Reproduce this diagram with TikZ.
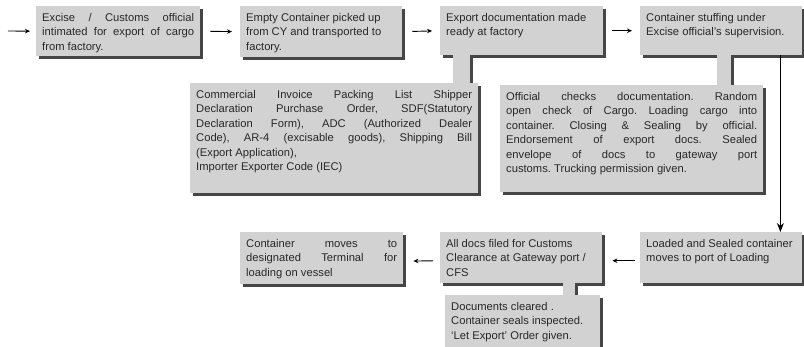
\documentclass[tikz,border=0pt]{standalone}
\usepackage{fontspec}
\setmainfont{Liberation Sans}
\usetikzlibrary{arrows.meta,shadows}

\definecolor{boxgray}{RGB}{210,210,210}
\definecolor{shadowgray}{RGB}{70,70,70}
\definecolor{inkgray}{RGB}{40,40,40}

% text block of a stage box: height, width, text
\newcommand\boxtext[3]{\parbox[t][#1][t]{#2}{\frenchspacing\hyphenpenalty=10000\strut #3}}

\tikzset{
  stage/.style={fill=boxgray, anchor=north west, inner xsep=6pt, inner ysep=5pt,
    text=inkgray, font=\fontsize{11.2}{14.5}\selectfont,
    drop shadow={shadow xshift=3pt, shadow yshift=-3pt, fill=shadowgray, opacity=1}},
  flow/.style={draw=black, line width=0.9pt, -{Stealth[length=5pt,width=4.5pt]}},
  drop/.style={flow, -{Stealth[length=9pt,width=7pt]}},
  stem/.style={draw=boxgray, line width=#1},
  stemedge/.style={draw=shadowgray, line width=3pt},
}

\begin{document}
\begin{tikzpicture}[x=1pt,y=-1pt]
  \useasboundingbox (0,0) rectangle (804,347);

  % first row
  \node[stage] (b1) at (36,6) {\boxtext{40pt}{152pt}{Excise / Customs official\linebreak
    intimated for export of cargo\linebreak from factory.}};
  \node[stage] (b2) at (240,6) {\boxtext{41pt}{150pt}{\raggedright Empty Container picked up\\
    from CY and transported to\\ factory.}};
  \node[stage] (b3) at (440,6) {\boxtext{39pt}{151pt}{\raggedright Export documentation made\\
    ready at factory}};
  \node[stage] (b4) at (640,6) {\boxtext{39pt}{150pt}{\raggedright Container stuffing under\\
    Excise official's supervision.}};

  % documents
  \node[stage] (ci) at (190,83) {\boxtext{100pt}{276pt}{Commercial Invoice Packing List Shipper\linebreak
    Declaration Purchase Order, SDF(Statutory\linebreak
    Declaration Form), ADC (Authorized Dealer\linebreak
    Code), AR-4 (excisable goods), Shipping Bill\linebreak
    (Export Application),\\ Importer Exporter Code (IEC)}};
  \node[stage] (oc) at (500,85) {\boxtext{97pt}{251pt}{Official checks documentation. Random\linebreak
    open check of Cargo. Loading cargo into\linebreak
    container. Closing \& Sealing by official.\linebreak
    Endorsement of export docs. Sealed\linebreak
    envelope of docs to gateway port\linebreak
    customs. Trucking permission given.}};

  % second row
  \node[stage] (b8) at (640,232) {\boxtext{41pt}{150pt}{\raggedright Loaded and Sealed container\\
    moves to port of Loading}};
  \node[stage] (b7) at (440,232) {\boxtext{41pt}{150pt}{\raggedright All docs filed for Customs\\
    Clearance at Gateway port /\\ CFS}};
  \node[stage] (b6) at (240,232) {\boxtext{42pt}{151pt}{Container moves to\linebreak
    designated Terminal for\linebreak loading on vessel}};
  \node[stage] (dc) at (445,295) {\boxtext{60pt}{143pt}{\raggedright Documents cleared .\\
    Container seals inspected.\\ `Let Export' Order given.}};

  % stems
  \draw[stem=17pt] ([xshift=21.5pt,yshift=5pt]b3.south west) -- ([xshift=21.5pt,yshift=-5pt]b3.south west |- ci.north);
  \draw[stemedge] ([xshift=31.5pt]b3.south west) -- ([xshift=31.5pt]b3.south west |- ci.north);
  \draw[stem=14pt] ([xshift=84pt,yshift=5pt]b4.south west) -- ([xshift=84pt,yshift=-5pt]b4.south west |- oc.north);
  \draw[stemedge] ([xshift=92.5pt]b4.south west) -- ([xshift=92.5pt]b4.south west |- oc.north);
  \draw[stem=12pt] ([xshift=129pt,yshift=5pt]b7.south west) -- ([xshift=129pt,yshift=-5pt]b7.south west |- dc.north);
  \draw[stemedge] ([xshift=136.5pt]b7.south west) -- ([xshift=136.5pt]b7.south west |- dc.north);

  % arrows
  \coordinate (entry) at (8,31);
  \draw[flow, shorten >=6pt] (entry) -- (b1.west);
  \draw[flow, shorten <=10pt, shorten >=8pt] (b1.east) -- (b2.west);
  \draw[flow, shorten <=10pt, shorten >=8pt] (b2.east) -- (b3.west);
  \draw[flow, shorten <=9pt, shorten >=8pt] (b3.east) -- (b4.west);
  \draw[drop] ([xshift=-22pt]b4.south east) -- ([xshift=-22pt]b8.north east);
  \draw[flow, shorten <=5pt, shorten >=10pt] ([yshift=-3pt]b8.west) -- ([yshift=-3pt]b7.east);
  \draw[flow, shorten <=7pt, shorten >=10pt] ([yshift=-3pt]b7.west) -- ([yshift=-3pt]b6.east);
\end{tikzpicture}
\end{document}
